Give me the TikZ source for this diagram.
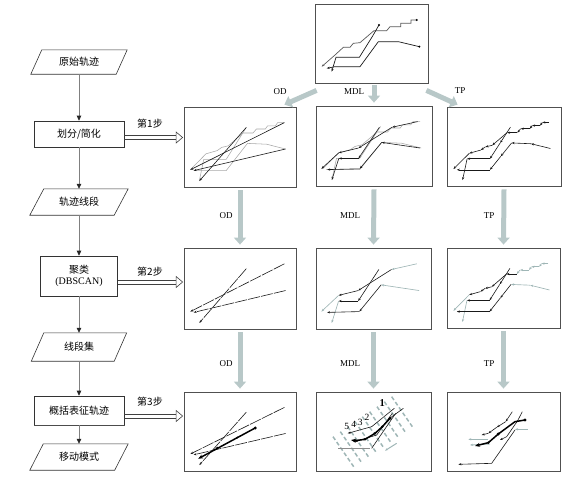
\documentclass[tikz,border=0pt]{standalone}
\usepackage{fontspec}
\setmainfont{Liberation Serif}
\newfontfamily\cjk{Noto Sans CJK SC}
\usetikzlibrary{arrows.meta}
\definecolor{garrow}{HTML}{B8C8C8}
\definecolor{noisec}{HTML}{9FB6B6}
\definecolor{lgray}{HTML}{A8A8A8}
\definecolor{framec}{HTML}{505050}
\newcommand\cjkf{\cjk\fontsize{10}{12}\selectfont}
\def\TA{.90/.20,.84/.20,.82/.24,.75/.24,.73/.28,.65/.28,.62/.33,.53/.33,.40/.49,.34/.51,.30/.55,.20/.59,.06/.79}
\def\TB{.56/.26,.47/.46,.38/.66,.18/.66,.14/.93}
\def\TC{.91/.53,.74/.47,.57/.46,.475/.63,.38/.80,.09/.80}
\def\MA{.88/.20,.66/.27,.37/.53,.20/.59,.05/.79}
\def\MB{.55/.27,.37/.66,.20/.66,.14/.93}
\def\MC{.90/.53,.57/.46,.38/.79,.10/.80}
\newcommand\spath[2]{\foreach \x/\y [count=\i, remember=\x as \px (initially 0), remember=\y as \py (initially 0)] in #2 {\ifnum\i>1 \draw[#1] (\px,\py) -- (\x,\y);\fi}}
\newcommand\origs{%
  \draw[orig] (.90,.20) \foreach \x/\y in \TA {-- (\x,\y)};
  \draw[orig] (.56,.26) \foreach \x/\y in \TB {-- (\x,\y)};
  \draw[orig] (.91,.53) \foreach \x/\y in \TC {-- (\x,\y)};}
\newcommand\odlines[1]{%
  \draw[dark,atip,#1] (.90,.20) -- (.06,.79);
  \draw[dark,atip,#1] (.56,.26) -- (.14,.93);
  \draw[dark,atip,#1] (.91,.53) -- (.09,.80);}
\newcommand\para[2]{\draw[black!80,line width=0.6pt] ([xshift=#2]#1.north west) -- (#1.north east) -- ([xshift=-#2]#1.south east) -- (#1.south west) -- cycle;}
% hollow double arrow from coordinate #1 to coordinate #2 (horizontal)
\newcommand\hollow[2]{%
  \draw[hol] ([yshift=1.8pt]#1) -- ([xshift=-6pt,yshift=1.8pt]#2);
  \draw[hol] ([yshift=-1.8pt]#1) -- ([xshift=-6pt,yshift=-1.8pt]#2);
  \draw[hol,fill=white] ([xshift=-6.5pt,yshift=5.5pt]#2) -- (#2) -- ([xshift=-6.5pt,yshift=-5.5pt]#2) -- cycle;}
\begin{document}
\begin{tikzpicture}[x=1pt,y=-1pt,
  panel/.style={draw=framec,line width=0.8pt,inner sep=0pt},
  fbox/.style={draw=black!80,line width=0.6pt,inner sep=0pt,align=center,font=\cjkf},
  pbox/.style={inner sep=0pt,font=\cjkf},
  flow/.style={draw=black!50,line width=0.7pt,-{Triangle[length=5pt,width=4.5pt,color=black!85]}},
  hol/.style={draw=black!75,line width=0.6pt,line join=miter},
  garr/.style={draw=garrow,line width=5pt,-{Triangle[length=7pt,width=12pt]}},
  lab/.style={font=\fontsize{9}{10}\selectfont,inner sep=1pt},
  slab/.style={font=\cjkf,inner sep=1pt},
  orig/.style={draw=lgray,line width=0.55pt},
  dark/.style={draw=black!90,line width=0.6pt},
  noise/.style={draw=noisec,line width=0.65pt},
  atip/.style={-{Stealth[length=3pt,width=2.2pt]}},
  clus/.style={dash pattern=on 12pt off 1.2pt},
  thick rep/.style={line width=1.5pt,-{Stealth[length=5pt,width=4pt]}},
  sweep/.style={draw=noisec,line width=1.5pt,dash pattern=on 4pt off 2.5pt},
  num/.style={font=\fontsize{9.5}{9.5}\selectfont,inner sep=0pt}]
\useasboundingbox (0,0) rectangle (575,482);
% ---------- flowchart ----------
\node[pbox,minimum width=96pt,minimum height=24pt] (n1) at (79,62) {原始轨迹}; \para{n1}{11pt}
\node[fbox,minimum width=90pt,minimum height=26pt] (n2) at (79,134) {划分/简化};
\node[pbox,minimum width=98pt,minimum height=26pt] (n3) at (79,202) {轨迹线段}; \para{n3}{14pt}
\node[fbox,minimum width=77pt,minimum height=40pt] (n4) at (79,276) {聚类\\[-1pt]{\rmfamily(DBSCAN)}};
\node[pbox,minimum width=95pt,minimum height=28pt] (n5) at (79,347) {线段集}; \para{n5}{12.5pt}
\node[fbox,minimum width=90pt,minimum height=29pt] (n6) at (79,410.5) {概括表征轨迹};
\draw[black!70,line width=0.9pt] ([xshift=0.5pt]n6.south west) -- ([xshift=0.5pt]n6.south east);
\node[pbox,minimum width=98pt,minimum height=26pt] (n7) at (79,457) {移动模式}; \para{n7}{13.5pt}
\draw[flow] (n1) -- (n2);
\draw[flow] (n2) -- (n3);
\draw[flow] (n3) -- (n4);
\draw[flow] (n4) -- (n5);
\draw[flow] (n5) -- (n6);
\draw[flow] (n6) -- (n7);
% ---------- panels ----------
\node[panel,minimum width=113pt,minimum height=79pt] (p0) at (371.5,43.5) {};
\node[panel,minimum width=112pt,minimum height=80pt] (p11) at (240,147) {};
\node[panel,minimum width=116pt,minimum height=80pt] (p12) at (374,146) {};
\node[panel,minimum width=114pt,minimum height=79pt] (p13) at (504,146.5) {};
\node[panel,minimum width=112pt,minimum height=81pt] (p21) at (240,288.5) {};
\node[panel,minimum width=115pt,minimum height=81pt] (p22) at (373.5,288.5) {};
\node[panel,minimum width=113pt,minimum height=80pt] (p23) at (503.5,288) {};
\node[panel,minimum width=112pt,minimum height=79pt] (p31) at (240,431.5) {};
\node[panel,minimum width=115pt,minimum height=79pt] (p32) at (373.5,431.5) {};
\node[panel,minimum width=113pt,minimum height=79pt] (p33) at (503.5,431.5) {};
% ---------- step arrows ----------
\coordinate (s1) at ([yshift=-3.5pt]n2.east);
\coordinate (s2) at ([yshift=-6pt]n4.east);
\coordinate (s3) at ([yshift=-5.5pt]n6.east);
\coordinate (e1) at ([xshift=-1pt]s1 -| p11.west);
\coordinate (e2) at ([xshift=-1pt]s2 -| p21.west);
\coordinate (e3) at ([xshift=-1pt]s3 -| p31.west);
\hollow{s1}{e1}
\hollow{s2}{e2}
\hollow{s3}{e3}
\node[slab] (st1) at (150,124) {第1步};
\node[slab] (st2) at (150,272) {第2步};
\node[slab] (st3) at (150,402) {第3步};
% ---------- gray arrows ----------
\coordinate (a2) at ([yshift=-1.5pt]p0.south);
\draw[garr] ([xshift=2pt,yshift=-7pt]p0.south west) -- ([xshift=-12pt,yshift=2pt]p11.north east);
\draw[garr] (a2 -| p12.north) -- ([yshift=3pt]p12.north);
\draw[garr] ([xshift=-2pt,yshift=-7pt]p0.south east) -- ([xshift=11pt,yshift=2pt]p13.north west);
\draw[garr] ([yshift=-3pt]p11.south) -- ([yshift=3pt]p21.north);
\draw[garr] ([yshift=-3pt]p12.south) -- ([yshift=3pt]p22.north);
\draw[garr] ([yshift=-3pt]p13.south) -- ([yshift=3pt]p23.north);
\draw[garr] ([yshift=-3pt]p21.south) -- ([yshift=3pt]p31.north);
\draw[garr] ([yshift=-3pt]p22.south) -- ([yshift=3pt]p32.north);
\draw[garr] ([yshift=-3pt]p23.south) -- ([yshift=3pt]p33.north);
\node[lab] (l01) at (280,92) {OD};
\node[lab] (l02) at (354,92) {MDL};
\node[lab] (l03) at (460,91) {TP};
\node[lab] (l11) at (226,216) {OD};
\node[lab] (l12) at (350,216) {MDL};
\node[lab] (l13) at (489,216) {TP};
\node[lab] (l21) at (226,364) {OD};
\node[lab] (l22) at (350,364) {MDL};
\node[lab] (l23) at (489,364) {TP};
% ---------- top panel ----------
\begin{scope}[shift={(300,0)},x=0.3333pt,y=-0.3333pt]
\draw[draw=black!65,line width=0.7pt,atip] (350,60) -- (333,60) -- (333,70) -- (302,70) -- (302,80) -- (270,80) -- (260,92) -- (222,92) -- (180,128) -- (160,130) -- (150,142) -- (130,142) -- (105,165) -- (65,200);
\draw[dark,line width=0.7pt,atip] (237,75) -- (218,108) -- (178,172) -- (108,172) -- (95,215);
\draw[dark,line width=0.7pt,atip] (358,140) -- (295,125) -- (235,125) -- (180,200) -- (105,200) -- (80,205);
\fill (350,60) circle[radius=1.1pt] (237,75) circle[radius=1.1pt] (358,140) circle[radius=1.1pt];
\end{scope}
% ---------- row 1 ----------
\begin{scope}[shift={(p11.north west)},x=112pt,y=-80pt]
\origs
\odlines{}
\end{scope}
\begin{scope}[shift={(p12.north west)},x=116pt,y=-80pt]
\origs
\spath{dark,atip}{\MA}
\spath{dark,atip}{\MB}
\spath{dark,atip}{\MC}
\end{scope}
\begin{scope}[shift={(p13.north west)},x=114pt,y=-79pt]
\spath{dark,atip}{\TA}
\spath{dark,atip}{\TB}
\spath{dark,atip}{\TC}
\end{scope}
% ---------- row 2 ----------
\begin{scope}[shift={(p21.north west)},x=112pt,y=-81pt]
\odlines{clus}
\end{scope}
\begin{scope}[shift={(p22.north west)},x=115pt,y=-81pt]
\draw[noise,atip] (.88,.20) -- (.66,.27);
\draw[dark,atip] (.66,.27) -- (.37,.53);
\draw[dark,atip] (.37,.53) -- (.20,.59);
\draw[noise,atip] (.20,.59) -- (.05,.79);
\draw[dark,atip] (.55,.27) -- (.37,.66);
\draw[dark,atip] (.37,.66) -- (.20,.66);
\draw[noise,atip] (.20,.66) -- (.14,.93);
\draw[noise,atip] (.90,.53) -- (.57,.46);
\draw[dark,atip] (.57,.46) -- (.38,.79);
\draw[dark,atip] (.38,.79) -- (.10,.80);
\end{scope}
\begin{scope}[shift={(p23.north west)},x=113pt,y=-80pt]
\spath{noise,atip}{{.90/.20,.84/.20,.82/.24,.75/.24,.73/.28,.65/.28,.62/.33}}
\spath{dark,atip}{{.62/.33,.53/.33,.40/.49,.34/.51,.30/.55,.20/.59}}
\draw[noise,atip] (.20,.59) -- (.06,.79);
\spath{dark,atip}{{.56/.26,.47/.46,.38/.66,.18/.66}}
\draw[noise,atip] (.18,.66) -- (.14,.93);
\spath{noise,atip}{{.91/.53,.74/.47,.57/.46}}
\spath{dark,atip}{{.57/.46,.475/.63,.38/.80,.09/.80}}
\end{scope}
% ---------- row 3 ----------
\begin{scope}[shift={(p31.north west)},x=112pt,y=-79pt]
\odlines{clus}
\draw[thick rep] (.64,.46) -- (.13,.85);
\fill (.64,.46) circle[radius=1.6pt] (.48,.58) circle[radius=1pt] (.30,.71) circle[radius=1pt];
\end{scope}
\begin{scope}[shift={(305,380)},x=0.3333pt,y=-0.3333pt]
\foreach \i in {0,...,8} {\draw[sweep] ({84+22*\i},{170-15*\i}) -- ++(62,90);}
\draw[dark,atip] (268,85) -- (200,140) -- (128,160);
\draw[dark] (295,85) -- (250,118);
\draw[dark,atip] (262,100) -- (215,165) -- (150,185);
\draw[dark] (200,205) -- (272,100);
\draw[draw=black!45,line width=1pt] (195,205) -- (100,205);
\draw[noise,line width=1pt,atip] (275,190) -- (240,212);
\draw[thick rep] (255,115) -- (232,140) -- (210,160) -- (180,178) -- (150,182) -- (138,180);
\fill (255,115) circle[radius=1.6pt] (232,140) circle[radius=1.4pt] (210,160) circle[radius=1.4pt] (180,178) circle[radius=1.4pt] (150,182) circle[radius=1.4pt];
\node[num] (k5) at (125,140) {5};
\node[num] (k4) at (146,133) {4};
\node[num] (k3) at (166,126) {3};
\node[num] (k2) at (186,112) {2};
\node[num,font=\fontsize{10.5}{10.5}\selectfont\bfseries] (k1) at (232,70) {1};
\end{scope}
\begin{scope}[shift={(435,380)},x=0.3333pt,y=-0.3333pt]
\spath{dark,atip}{{232/95,212/125,185/142,160/160,140/165}}
\draw[dark,atip] (262,95) -- (248,122) -- (215,170) -- (195,180);
\draw[dark,atip] (240,150) -- (170,250) -- (70,253);
\draw[noise,line width=0.9pt,atip] (278,148) -- (240,148);
\draw[noise,line width=0.9pt,atip] (160,178) -- (100,178);
\draw[noise,line width=0.9pt,atip] (165,192) -- (105,195);
\draw[thick rep] (270,120) -- (240,125) -- (190,162) -- (160,188) -- (120,198);
\fill (270,120) circle[radius=1.6pt] (190,162) circle[radius=1.6pt] (160,188) circle[radius=1.4pt];
\end{scope}
\end{tikzpicture}
\end{document}
